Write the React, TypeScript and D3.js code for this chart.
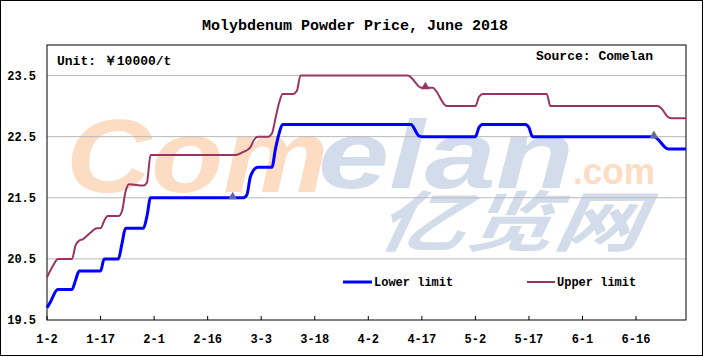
import React from "react";
import * as d3 from "d3";

const title = "Molybdenum Powder Price, June 2018";
const unitLabel = "Unit: ￥10000/t";
const sourceLabel = "Source: Comelan";

const lowerDates = ["01-02","01-03","01-05","01-09","01-10","01-11","01-17","01-18","01-22","01-23","01-24","01-29","01-30","01-31","02-26","02-27","02-28","03-02","03-06","03-07","03-08","03-09","04-14","04-15","04-16","04-17","05-02","05-03","05-04","05-16","05-17","05-18","06-21","06-25","06-30"];
const lowerValues = [19.7,19.8,20.0,20.0,20.15,20.3,20.3,20.5,20.5,20.75,21.0,21.0,21.2,21.5,21.5,21.55,21.85,22.0,22.0,22.3,22.55,22.7,22.7,22.62,22.52,22.5,22.5,22.65,22.7,22.7,22.65,22.5,22.5,22.3,22.3];

const upperDates = ["01-02","01-04","01-05","01-09","01-10","01-11","01-12","01-14","01-16","01-17","01-18","01-19","01-22","01-23","01-24","01-25","01-29","01-30","01-31","02-24","02-26","02-28","03-01","03-02","03-05","03-06","03-07","03-08","03-09","03-12","03-13","03-14","04-13","04-14","04-15","04-16","04-17","04-20","04-24","05-02","05-03","05-04","05-22","05-23","06-22","06-23","06-25","06-26","06-30"];
const upperValues = [20.2,20.42,20.5,20.5,20.72,20.8,20.82,20.92,21.0,21.0,21.12,21.2,21.2,21.28,21.6,21.72,21.7,21.75,22.2,22.2,22.25,22.33,22.45,22.5,22.5,22.55,22.8,23.05,23.2,23.2,23.25,23.5,23.5,23.47,23.4,23.33,23.3,23.3,23.0,23.0,23.15,23.2,23.2,23.0,23.0,22.97,22.82,22.8,22.8];

const markerLower = [["02-23", 21.5], ["06-21", 22.5]];
const markerUpper = [["04-18", 23.3]];

const yTicks = [19.5, 20.5, 21.5, 22.5, 23.5];
const xTickLabels = ["1-2","1-17","2-1","2-16","3-3","3-18","4-2","4-17","5-2","5-17","6-1","6-16"];
const seriesNames = ["Lower limit", "Upper limit"];

const W = 704, H = 357;
const L = 47, R = 686, T = 45, B = 320;
const FONT = "'Liberation Mono', 'DejaVu Sans Mono', monospace";

const parse = (s: string) => new Date(Date.UTC(2018, +s.split("-")[0] - 1, +s.split("-")[1]));

export default function App() {
  const x = d3.scaleUtc().domain([parse("01-02"), parse("06-30")]).range([L, R]);
  const y = d3.scaleLinear().domain([19.5, 24]).range([B, T]);
  const line = d3.line<[Date, number]>().x(d => x(d[0])).y(d => y(d[1])).curve(d3.curveMonotoneX);
  const lower: [Date, number][] = lowerDates.map((d, i) => [parse(d), lowerValues[i]]);
  const upper: [Date, number][] = upperDates.map((d, i) => [parse(d), upperValues[i]]);
  const xTicks = xTickLabels.map(l => parse(l.split("-")[0].padStart(2, "0") + "-" + l.split("-")[1].padStart(2, "0")));
  const tri = d3.symbol(d3.symbolTriangle, 34)();

  return (
    <svg width={W} height={H} style={{ position: "absolute", left: 0, top: 0, background: "#fff" }}>
      <rect x={0.5} y={0.5} width={W - 2} height={H - 2} fill="#fff" stroke="#000" />
      <text x={355} y={30} textAnchor="middle" fontFamily={FONT} fontWeight="bold" fontSize={15}>{title}</text>

      {/* watermark */}
      <g fontFamily="'Liberation Sans', Arial, sans-serif" fontWeight="bold" fontStyle="italic">
        <text x={66} y={192} fontSize={104} fill="#fcdcc2" textLength={262} lengthAdjust="spacingAndGlyphs">Com</text>
        <text x={318} y={188} fontSize={96} fill="#d3dcea" textLength={256} lengthAdjust="spacingAndGlyphs">elan</text>
        <text x={573} y={184} fontSize={36} fontStyle="normal" fill="#fcdcc2" textLength={82} lengthAdjust="spacingAndGlyphs">.com</text>
        <text x={377} y={246} fontSize={66} fontFamily="'Noto Sans CJK SC', sans-serif" fill="#d3dcea" textLength={266} lengthAdjust="spacingAndGlyphs" transform="skewX(-8) translate(32,0)">亿览网</text>
      </g>

      {yTicks.slice(1).map(v => (
        <line key={v} x1={L} x2={R} y1={y(v)} y2={y(v)} stroke="#b8b8b8" />
      ))}
      <rect x={L} y={T} width={R - L} height={B - T} fill="none" stroke="#000" />
      {yTicks.map(v => (
        <text key={v} x={36} y={y(v)} dy="0.35em" textAnchor="end" fontFamily={FONT} fontWeight="bold" fontSize={12}>{v.toFixed(1)}</text>
      ))}
      {xTicks.map((d, i) => (
        <g key={i}>
          <line x1={x(d)} x2={x(d)} y1={B} y2={B - 4} stroke="#000" />
          <text x={x(d)} y={343} textAnchor="middle" fontFamily={FONT} fontWeight="bold" fontSize={12}>{xTickLabels[i]}</text>
        </g>
      ))}
      <text x={57} y={65} fontFamily={FONT} fontWeight="bold" fontSize={13}>{unitLabel}</text>
      <text x={653} y={60} textAnchor="end" fontFamily={FONT} fontWeight="bold" fontSize={13}>{sourceLabel}</text>

      <path d={line(upper) || ""} fill="none" stroke="#993366" strokeWidth={2} />
      <path d={line(lower) || ""} fill="none" stroke="#0000ff" strokeWidth={3} />
      {markerLower.map((m, i) => (
        <path key={"l" + i} d={tri || ""} transform={`translate(${x(parse(m[0] as string))},${y(m[1] as number) - 1})`} fill="#5c6a9c" />
      ))}
      {markerUpper.map((m, i) => (
        <path key={"u" + i} d={tri || ""} transform={`translate(${x(parse(m[0] as string))},${y(m[1] as number) - 1})`} fill="#993366" />
      ))}

      {/* legend */}
      <line x1={343} x2={372} y1={282} y2={282} stroke="#0000ff" strokeWidth={3} />
      <text x={374} y={286} fontFamily={FONT} fontWeight="bold" fontSize={12}>{seriesNames[0]}</text>
      <line x1={527} x2={555} y1={282} y2={282} stroke="#993366" strokeWidth={2} />
      <text x={557} y={286} fontFamily={FONT} fontWeight="bold" fontSize={12}>{seriesNames[1]}</text>
    </svg>
  );
}
